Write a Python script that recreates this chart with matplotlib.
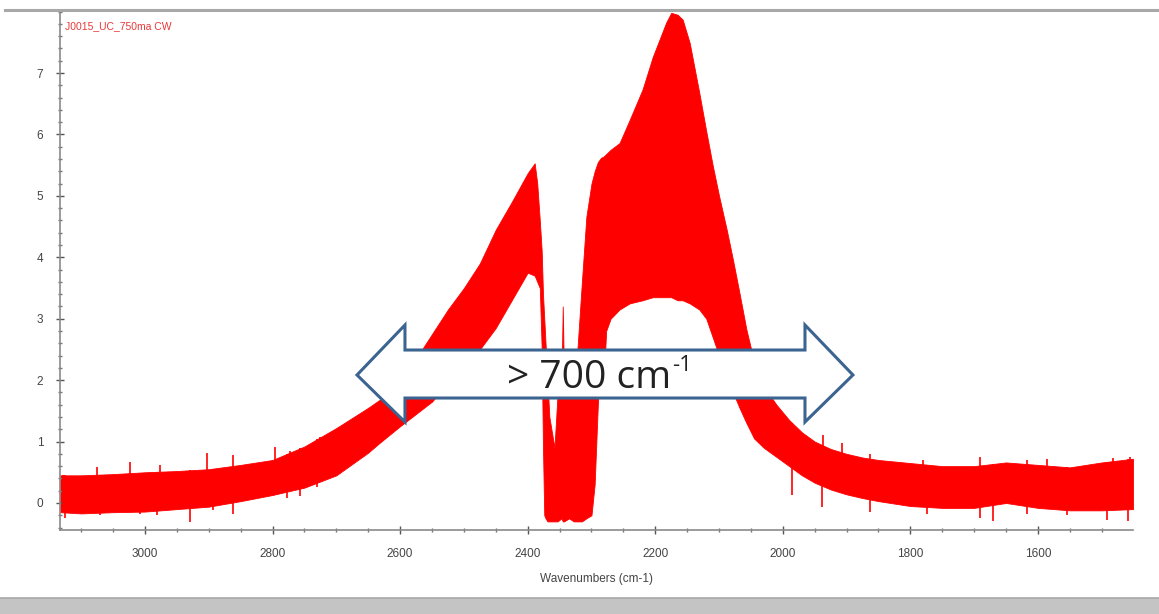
import matplotlib
matplotlib.use("Agg")
import numpy as np
from matplotlib import pyplot as plt
from matplotlib.patches import Polygon, Rectangle
from matplotlib.lines import Line2D
from matplotlib.ticker import MultipleLocator

# spectrum envelope (noise band)
wavenumbers = [3133, 3100, 3050, 3000, 2950, 2900, 2850, 2800, 2750, 2700,
               2650, 2632, 2600, 2575, 2550, 2525, 2500, 2475, 2450, 2425,
               2400, 2389, 2385, 2381, 2378, 2376, 2374, 2372, 2369, 2366,
               2358, 2353, 2347, 2345, 2343, 2335, 2328, 2322, 2315, 2308,
               2300, 2295, 2290, 2285, 2281, 2277, 2270, 2256, 2240, 2220,
               2204, 2183, 2175, 2165, 2157, 2146, 2131, 2120, 2110, 2100,
               2088, 2078, 2068, 2057, 2045, 2030, 2010, 1990, 1970, 1950,
               1925, 1900, 1875, 1850, 1800, 1750, 1700, 1650, 1600, 1550,
               1500, 1451]
upper = [0.45, 0.45, 0.47, 0.50, 0.52, 0.55, 0.62, 0.70, 0.92, 1.22,
         1.55, 1.68, 2.00, 2.35, 2.75, 3.15, 3.50, 3.90, 4.45, 4.90,
         5.37, 5.53, 5.20, 4.60, 4.10, 3.40, 3.00, 2.60, 2.00, 1.40,
         0.90, 1.80, 2.00, 3.20, 2.00, 2.10, 2.20, 2.50, 3.60, 4.66,
         5.20, 5.40, 5.55, 5.62, 5.64, 5.68, 5.75, 5.86, 6.24, 6.73,
         7.26, 7.82, 7.98, 7.95, 7.87, 7.49, 6.68, 6.05, 5.50, 5.00,
         4.45, 3.95, 3.42, 2.82, 2.30, 1.90, 1.60, 1.35, 1.15, 1.00,
         0.88, 0.80, 0.74, 0.70, 0.65, 0.60, 0.60, 0.66, 0.62, 0.58,
         0.66, 0.72]
lower = [-0.15, -0.17, -0.15, -0.14, -0.10, -0.06, 0.03, 0.13, 0.25, 0.45,
         0.82, 0.98, 1.25, 1.45, 1.65, 1.95, 2.20, 2.50, 2.85, 3.30,
         3.75, 3.70, 3.60, 3.50, 2.50, 0.90, -0.20, -0.25, -0.30, -0.30,
         -0.30, -0.30, -0.25, -0.30, -0.30, -0.25, -0.30, -0.30, -0.30, -0.25,
         -0.20, 0.30, 1.60, 2.50, 1.90, 2.80, 3.00, 3.15, 3.25, 3.30,
         3.35, 3.35, 3.35, 3.30, 3.30, 3.25, 3.15, 3.00, 2.70, 2.40,
         2.05, 1.80, 1.55, 1.30, 1.05, 0.90, 0.75, 0.60, 0.45, 0.33,
         0.22, 0.14, 0.08, 0.03, -0.05, -0.08, -0.08, 0.00, -0.08, -0.12,
         -0.12, -0.10]

# single noise spikes sticking out of the band
spike_up_wn = [3129, 3075, 3023, 2976, 2903, 2862, 2796, 2773, 2726,
               1937, 1907, 1863, 1780, 1691, 1617, 1586, 1483, 1456]
spike_up = [0.46, 0.58, 0.67, 0.62, 0.81, 0.78, 0.91, 0.85, 1.07,
            1.11, 0.97, 0.80, 0.70, 0.75, 0.70, 0.72, 0.74, 0.75]
spike_dn_wn = [3125, 3070, 3008, 2981, 2929, 2893, 2862, 2777, 2757, 2730,
               1986, 1939, 1863, 1774, 1691, 1671, 1617, 1555, 1492, 1459]
spike_dn = [-0.24, -0.20, -0.18, -0.20, -0.31, -0.12, -0.18, 0.08, 0.11, 0.26,
            0.13, -0.06, -0.15, -0.18, -0.24, -0.29, -0.18, -0.20, -0.28, -0.29]

y_ticks = [0, 1, 2, 3, 4, 5, 6, 7]
x_ticks = [3000, 2800, 2600, 2400, 2200, 2000, 1800, 1600]
trace_name = "J0015_UC_750ma CW"
x_label = "Wavenumbers (cm-1)"

W, H = 1159, 614
red = "#ff0000"
fig = plt.figure(figsize=(W / 100, H / 100), dpi=100)
fig.patch.set_facecolor("white")

ax = fig.add_axes([60 / W, 1 - 530 / H, 1073 / W, 519 / H])
ax.fill_between(wavenumbers, lower, upper, color=red, lw=0.6, edgecolor=red)

# spikes start inside the band
wn_asc = wavenumbers[::-1]
up_base = np.interp(spike_up_wn, wn_asc, lower[::-1])
dn_base = np.interp(spike_dn_wn, wn_asc, upper[::-1])
ax.vlines(spike_up_wn, up_base, spike_up, color=red, lw=1.2)
ax.vlines(spike_dn_wn, spike_dn, dn_base, color=red, lw=1.2)

ax.set_xlim(3133.2, 1451)
ax.set_ylim(-0.44, 8.01)

for side in ["top", "right"]:
    ax.spines[side].set_visible(False)
for side in ["left", "bottom"]:
    ax.spines[side].set_color("#8a8a8a")
    ax.spines[side].set_linewidth(1.2)

ax.set_xticks(x_ticks)
ax.set_yticks(y_ticks)
ax.xaxis.set_minor_locator(MultipleLocator(50))
ax.yaxis.set_minor_locator(MultipleLocator(0.2))
ax.tick_params(which="major", direction="inout", length=6, width=1,
               color="#555555", labelsize=8.5, labelcolor="#444444")
ax.tick_params(which="minor", direction="inout", length=3, width=1,
               color="#777777")
ax.tick_params(axis="x", which="major", pad=10)
ax.tick_params(axis="y", which="major", pad=9)
for lab in ax.get_xticklabels() + ax.get_yticklabels():
    lab.set_family("Liberation Sans")
ax.set_xlabel(x_label, fontsize=8.5, color="#444444", family="Liberation Sans",
              labelpad=9)

ax.text(5 / 1073, 1 - 15 / 519, trace_name, transform=ax.transAxes,
        fontsize=7.5, color="#e8383a", family="Liberation Sans", va="center")

# double headed block arrow, in axes fraction
xl, xlh, xrh, xr = 0.2768, 0.3215, 0.6943, 0.7390
yc, yst, ysb, yht, yhb = 0.2987, 0.3468, 0.2543, 0.3950, 0.2081
arrow = Polygon([(xl, yc), (xlh, yht), (xlh, yst), (xrh, yst), (xrh, yht),
                 (xr, yc), (xrh, yhb), (xrh, ysb), (xlh, ysb), (xlh, yhb)],
                closed=True, transform=ax.transAxes, facecolor="white",
                edgecolor="#3c6491", lw=2.2, zorder=5, clip_on=False)
ax.add_patch(arrow)
main_txt = ax.text(0.493, 0.293, "> 700 cm", transform=ax.transAxes,
                   fontsize=28, family="Open Sans", color="#222222",
                   ha="center", va="center", zorder=6)
ax.annotate("-1", xy=(1.0, 0.82), xycoords=main_txt, xytext=(1, 0),
            textcoords="offset points", fontsize=16, family="Open Sans",
            color="#222222", ha="left", va="center", zorder=6)

# window frame pieces
fig.add_artist(Line2D([5 / W, 1], [1 - 10 / H, 1 - 10 / H], color="#a8a8a8",
                      lw=2.2))
fig.add_artist(Rectangle((0, 0), 1, 16 / H, transform=fig.transFigure,
                         facecolor="#c4c4c4", edgecolor="none"))
fig.add_artist(Line2D([0, 1], [16 / H, 16 / H], color="#a8a8a8", lw=1.2))

fig.savefig("out.png", dpi=100)
